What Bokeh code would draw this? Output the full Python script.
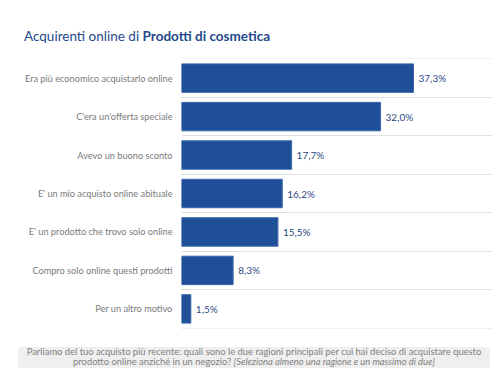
from bokeh.plotting import figure
from bokeh.models import Div, FixedTicker, ColumnDataSource, Range1d
from bokeh.layouts import column
from bokeh.embed import file_html
from bokeh.resources import INLINE
from bokeh.core.properties import value

categories = [
    "Era più economico acquistarlo online",
    "C'era un'offerta speciale",
    "Avevo un buono sconto",
    "E' un mio acquisto online abituale",
    "E' un prodotto che trovo solo online",
    "Compro solo online questi prodotti",
    "Per un altro motivo",
]
values = [37.3, 32.0, 17.7, 16.2, 15.5, 8.3, 1.5]
value_labels = ["37,3%", "32,0%", "17,7%", "16,2%", "15,5%", "8,3%", "1,5%"]

n = len(categories)
ypos = [n - i - 0.5 for i in range(n)]

src = ColumnDataSource(dict(y=ypos, v=values, lab=value_labels))

title = Div(
    text='<div style="position:absolute;left:24px;top:27px;font-family:Lato;font-size:13.5px;'
         'color:#24498a;white-space:nowrap;">Acquirenti online di <b>Prodotti di cosmetica</b></div>',
    width=500, height=54, margin=(0, 0, 0, 0),
)

p = figure(width=500, height=276, output_backend="svg", toolbar_location=None,
           x_range=Range1d(0, 50), y_range=Range1d(-0.01, n + 0.01),
           min_border_left=181, min_border_right=8, min_border_top=4, min_border_bottom=2)
p.outline_line_color = None
p.background_fill_color = "white"
p.border_fill_color = "white"

p.hbar(y="y", right="v", left=0, height=0.74, source=src,
       fill_color="#1f4f98", line_color="#3b68ab", line_width=1)
p.text(x="v", y="y", text="lab", source=src, x_offset=5,
       text_baseline="middle", text_align="left", text_font=value("Lato"),
       text_font_size="10px", text_color="#2c4a85")

p.xaxis.visible = False
p.xgrid.visible = False
p.ygrid.ticker = FixedTicker(ticks=list(range(n + 1)))
p.ygrid.grid_line_color = "#e0e0e0"
p.ygrid.grid_line_width = 1.2

yax = p.yaxis[0]
yax.ticker = FixedTicker(ticks=ypos)
yax.major_label_overrides = {y: c for y, c in zip(ypos, categories)}
yax.axis_line_color = None
yax.major_tick_line_color = None
yax.minor_tick_line_color = None
yax.major_tick_in = 0
yax.major_tick_out = 0
yax.major_label_standoff = 9
yax.major_label_text_font = "Lato"
yax.major_label_text_font_size = "9.2px"
yax.major_label_text_color = "#7a7a7a"

footer = Div(
    text='<div style="position:absolute;left:18px;top:17px;width:472px;height:21px;background:#efefef;'
         'border-radius:3px;font-family:Lato;font-size:9.4px;line-height:9.5px;color:#808080;'
         'text-align:center;padding-top:0px;box-sizing:border-box;">'
         'Parliamo del tuo acquisto più recente: quali sono le due ragioni principali per cui hai deciso di acquistare questo<br>'
         'prodotto online anziché in un negozio? <i>[Seleziona almeno una ragione e un massimo di due]</i></div>',
    width=500, height=40, margin=(0, 0, 0, 0),
)

layout = column(title, p, footer, spacing=0)
open("out.html", "w").write(file_html(layout, INLINE))
